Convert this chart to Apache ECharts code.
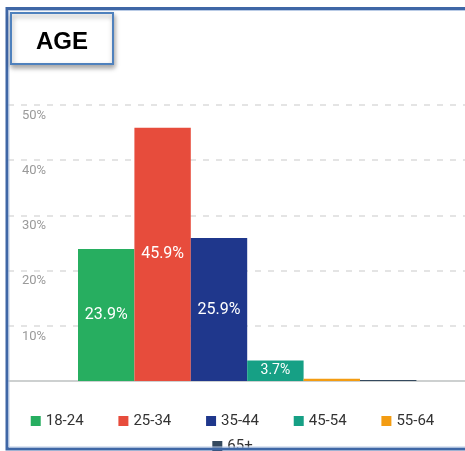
<!DOCTYPE html>
<html>
<head>
<meta charset="utf-8">
<script src="https://cdn.jsdelivr.net/npm/echarts@6/dist/echarts.min.js"></script>
<style>
html,body{margin:0;padding:0;background:#fff;}
#c{width:465px;height:451px;}
</style>
</head>
<body>
<div id="c"></div>
<script>
const categories = ['AGE'];
const seriesNames = ['18-24', '25-34', '35-44', '45-54', '55-64', '65+'];
const seriesValues = [23.9, 45.9, 25.9, 3.7, 0.4, 0.2];
const seriesColors = ['#27ae60', '#e74c3c', '#1f378c', '#16a085', '#f39c12', '#34495e'];
const yTicks = [0, 10, 20, 30, 40, 50];

const chart = echarts.init(document.getElementById('c'), null, {renderer: 'canvas'});

const series = seriesNames.map((name, i) => ({
  name: name,
  type: 'bar',
  data: [seriesValues[i]],
  barWidth: 56.4,
  barGap: '0%',
  itemStyle: {color: seriesColors[i]},
  label: {
    show: seriesValues[i] >= 1,
    position: 'inside',
    color: '#fff',
    fontFamily: 'Roboto',
    fontSize: seriesValues[i] < 10 ? 14 : 16,
    formatter: p => p.value + '%'
  }
}));

const legendText = {color: '#333', fontFamily: 'Roboto', fontSize: 15, lineHeight: 16};

chart.setOption({
  animation: false,
  grid: {left: 8, right: -21.4, top: 105, bottom: 70, containLabel: false, outerBoundsMode: 'none'},
  xAxis: {
    type: 'category',
    data: categories,
    axisLine: {show: true, lineStyle: {color: '#cdd0d0', width: 2}},
    axisTick: {show: false},
    axisLabel: {show: false}
  },
  yAxis: {
    type: 'value',
    min: yTicks[0],
    max: yTicks[yTicks.length - 1],
    interval: 10,
    axisLine: {show: false},
    axisTick: {show: false},
    axisLabel: {
      inside: true,
      margin: 14,
      showMinLabel: false,
      verticalAlign: 'top',
      padding: [4, 0, 0, 0],
      color: '#9a9a9a',
      fontFamily: 'Roboto',
      fontSize: 13,
      formatter: v => v + '%'
    },
    splitLine: {show: true, lineStyle: {color: '#dcdcdc', width: 1.5, type: [6, 7]}}
  },
  legend: [
    {
      data: seriesNames.slice(0, 5),
      left: 'center',
      top: 408,
      itemWidth: 10,
      itemHeight: 10,
      itemGap: 34.8,
      icon: 'rect',
      textStyle: legendText
    },
    {
      data: seriesNames.slice(5),
      left: 'center',
      top: 433,
      itemWidth: 10,
      itemHeight: 10,
      icon: 'rect',
      textStyle: legendText
    }
  ],
  graphic: [
    {
      type: 'rect',
      z: 100,
      shape: {x: 7, y: 8.5, width: 520, height: 440.5},
      style: {fill: 'none', stroke: '#3f67a6', lineWidth: 3}
    },
    {
      type: 'rect',
      z: 100,
      shape: {x: 9, y: 10.5, width: 520, height: 436.5},
      style: {fill: 'none', stroke: '#b9cbe6', lineWidth: 1}
    },
    {
      type: 'rect',
      z: 101,
      shape: {x: 11, y: 13, width: 102, height: 51},
      style: {
        fill: '#fff', stroke: '#4f81bd', lineWidth: 2,
        shadowBlur: 5, shadowOffsetX: 1, shadowOffsetY: 3, shadowColor: 'rgba(0,0,0,0.35)'
      }
    },
    {
      type: 'text',
      z: 102,
      x: 62, y: 42,
      style: {
        text: 'AGE', fill: '#000', font: 'bold 24px "Liberation Sans", Arial, sans-serif',
        align: 'center', verticalAlign: 'middle'
      }
    }
  ],
  series: series
});
</script>
</body>
</html>
